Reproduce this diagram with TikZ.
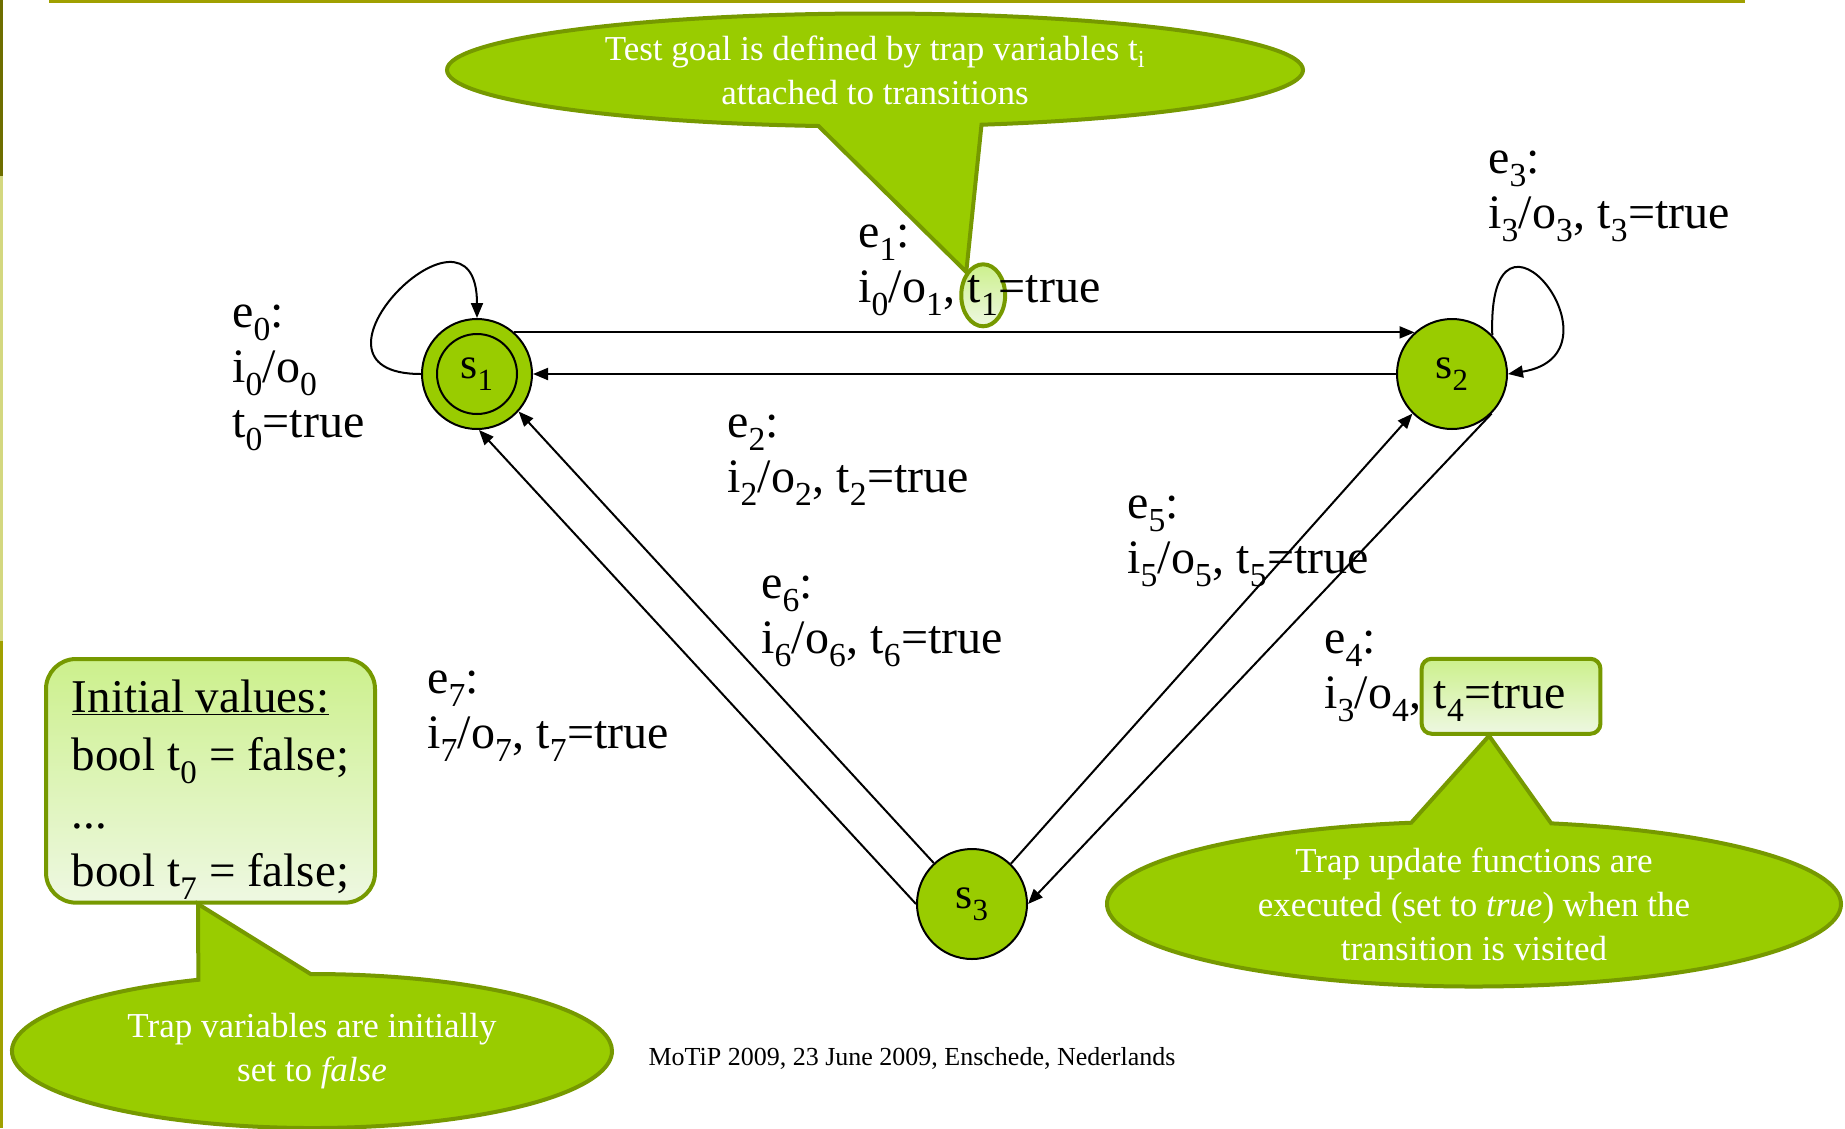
\documentclass[tikz,border=0pt]{standalone}
\usepackage{fontspec}
\setmainfont{Liberation Serif}
\usetikzlibrary{arrows.meta,shapes.geometric,shapes.callouts,fit,backgrounds}

\definecolor{stategreen}{RGB}{153,204,0}
\definecolor{calloutrim}{RGB}{118,153,0}
\definecolor{paletop}{RGB}{204,240,140}
\definecolor{palebottom}{RGB}{238,248,226}
\definecolor{barolive}{RGB}{160,160,0}
\definecolor{bardark}{RGB}{110,110,0}
\definecolor{barpale}{RGB}{212,216,128}

\newcommand{\sbs}[1]{\textsubscript{#1}}
\newcommand{\lblfont}{\fontsize{48}{55}\selectfont}
\newcommand{\notefont}{\fontsize{35}{44}\selectfont}

\tikzset{
  stnode/.style={circle,draw,line width=2pt,fill=stategreen,minimum size=110pt,inner sep=0pt,font=\fontsize{44}{50}\selectfont},
  trans/.style={-{Triangle[length=15pt,width=12pt]},line width=2pt},
  lbl/.style={anchor=base west,inner sep=0pt,font=\lblfont,align=left},
  note/.style={ellipse callout,draw=calloutrim,line width=4pt,fill=stategreen,inner sep=0pt,callout pointer arc=22},
  notetext/.style={text=white,font=\notefont,align=center},
  pale/.style={draw=calloutrim,line width=4pt,top color=paletop,bottom color=palebottom},
}

\begin{document}
\begin{tikzpicture}[x=1pt,y=1pt]
  \useasboundingbox (0,0) rectangle (1845,-1128);

  % slide frame
  \fill[barolive] (49,0) rectangle (1745,-3);
  \fill[bardark] (0,0) rectangle (3,-176);
  \fill[barpale] (0,-176) rectangle (3,-641);
  \fill[barolive] (0,-641) rectangle (3,-1128);

  % states
  \node[stnode] (s1) at (477,-374) {s\sbs{1}};
  \node[stnode] (s2) at (1452,-374) {s\sbs{2}};
  \node[stnode] (s3) at (972,-904) {s\sbs{3}};
  \draw[line width=2pt] (s1) circle[radius=40pt];

  % transitions
  \draw[trans] (s1.west) .. controls (282,-374) and (477,-179) .. (s1.north);
  \draw[trans] (s1.48) -- (s2.132);
  \draw[trans] (s2.west) -- (s1.east);
  \draw[trans] (s2.44) .. controls (1487,-170) and (1632,-354) .. (s2.east);
  \draw[trans] (s2.-45) -- (s3.east);
  \draw[trans] (s3.46) -- (s2.-135);
  \draw[trans] (s3.133) -- (s1.-42);
  \draw[trans] (s3.west) -- (s1.-88);

  % transition labels (placed at the baseline of their last line)
  \node[lbl] (e0) at (232,-437) {e\sbs{0}:\\i\sbs{0}/o\sbs{0}\\t\sbs{0}=true};
  \node[lbl] (e1) at (858,-247) {e\sbs{1}:};
  \node[lbl] (e1io) at (858,-302) {i\sbs{0}/o\sbs{1},};
  \node[lbl] (t1) at ([xshift=12pt]e1io.base east) {t\sbs{1}};
  \node[lbl] (t1val) at (t1.base east) {=true};
  \node[lbl] (e2) at (727,-492) {e\sbs{2}:\\i\sbs{2}/o\sbs{2}, t\sbs{2}=true};
  \node[lbl] (e3) at (1488,-228) {e\sbs{3}:\\i\sbs{3}/o\sbs{3}, t\sbs{3}=true};
  \node[lbl] (e4) at (1324,-653) {e\sbs{4}:};
  \node[lbl] (e4io) at (1324,-708) {i\sbs{3}/o\sbs{4},};
  \node[lbl] (t4) at ([xshift=12pt]e4io.base east) {t\sbs{4}=true};
  \coordinate (t4end) at ([xshift=22pt]t4.east);
  \node[lbl] (e5) at (1127,-573) {e\sbs{5}:\\i\sbs{5}/o\sbs{5}, t\sbs{5}=true};
  \node[lbl] (e6) at (761,-653) {e\sbs{6}:\\i\sbs{6}/o\sbs{6}, t\sbs{6}=true};
  \node[lbl] (e7) at (427,-748) {e\sbs{7}:\\i\sbs{7}/o\sbs{7}, t\sbs{7}=true};

  % trap highlights
  \begin{scope}[on background layer]
    \node[pale,ellipse,fit=(t1),inner sep=0pt,minimum height=62pt] (t1mark) {};
    \node[pale,rounded corners=10pt,fit=(t4) (t4end),inner xsep=12pt,minimum height=75pt,yshift=5pt] (t4mark) {};
  \end{scope}

  % initial values
  \node[pale,rounded corners=30pt,anchor=north west,minimum width=329pt,minimum height=240pt,align=left,font=\fontsize{47}{58}\selectfont] (init) at (44,-657)
    {\rule{0pt}{50pt}\underline{Initial values:}\\bool t\sbs{0} = false;\\...\\bool t\sbs{7} = false;};

  % callouts
  \node[note,minimum width=856pt,minimum height=113pt,callout absolute pointer={(t1mark.north west)}] (goal) at (875,-70) {};
  \node[notetext] (goaltext) at (goal.center) {Test goal is defined by trap variables t\sbs{i}\\attached to transitions};
  \node[note,minimum width=734pt,minimum height=165pt,callout absolute pointer={([xshift=-22pt]t4mark.south)}] (update) at (1474,-904) {};
  \node[notetext] (updatetext) at (update.center) {Trap update functions are\\executed (set to \textit{true}) when the\\transition is visited};
  \node[note,minimum width=600pt,minimum height=154pt,callout absolute pointer={(198,-904)}] (falsenote) at (312,-1051) {};
  \node[notetext] (falsetext) at (falsenote.center) {Trap variables are initially\\set to \textit{false}};

  \node[font=\fontsize{26}{30}\selectfont] (footer) at (912,-1058) {MoTiP 2009, 23 June 2009, Enschede, Nederlands};
\end{tikzpicture}
\end{document}
